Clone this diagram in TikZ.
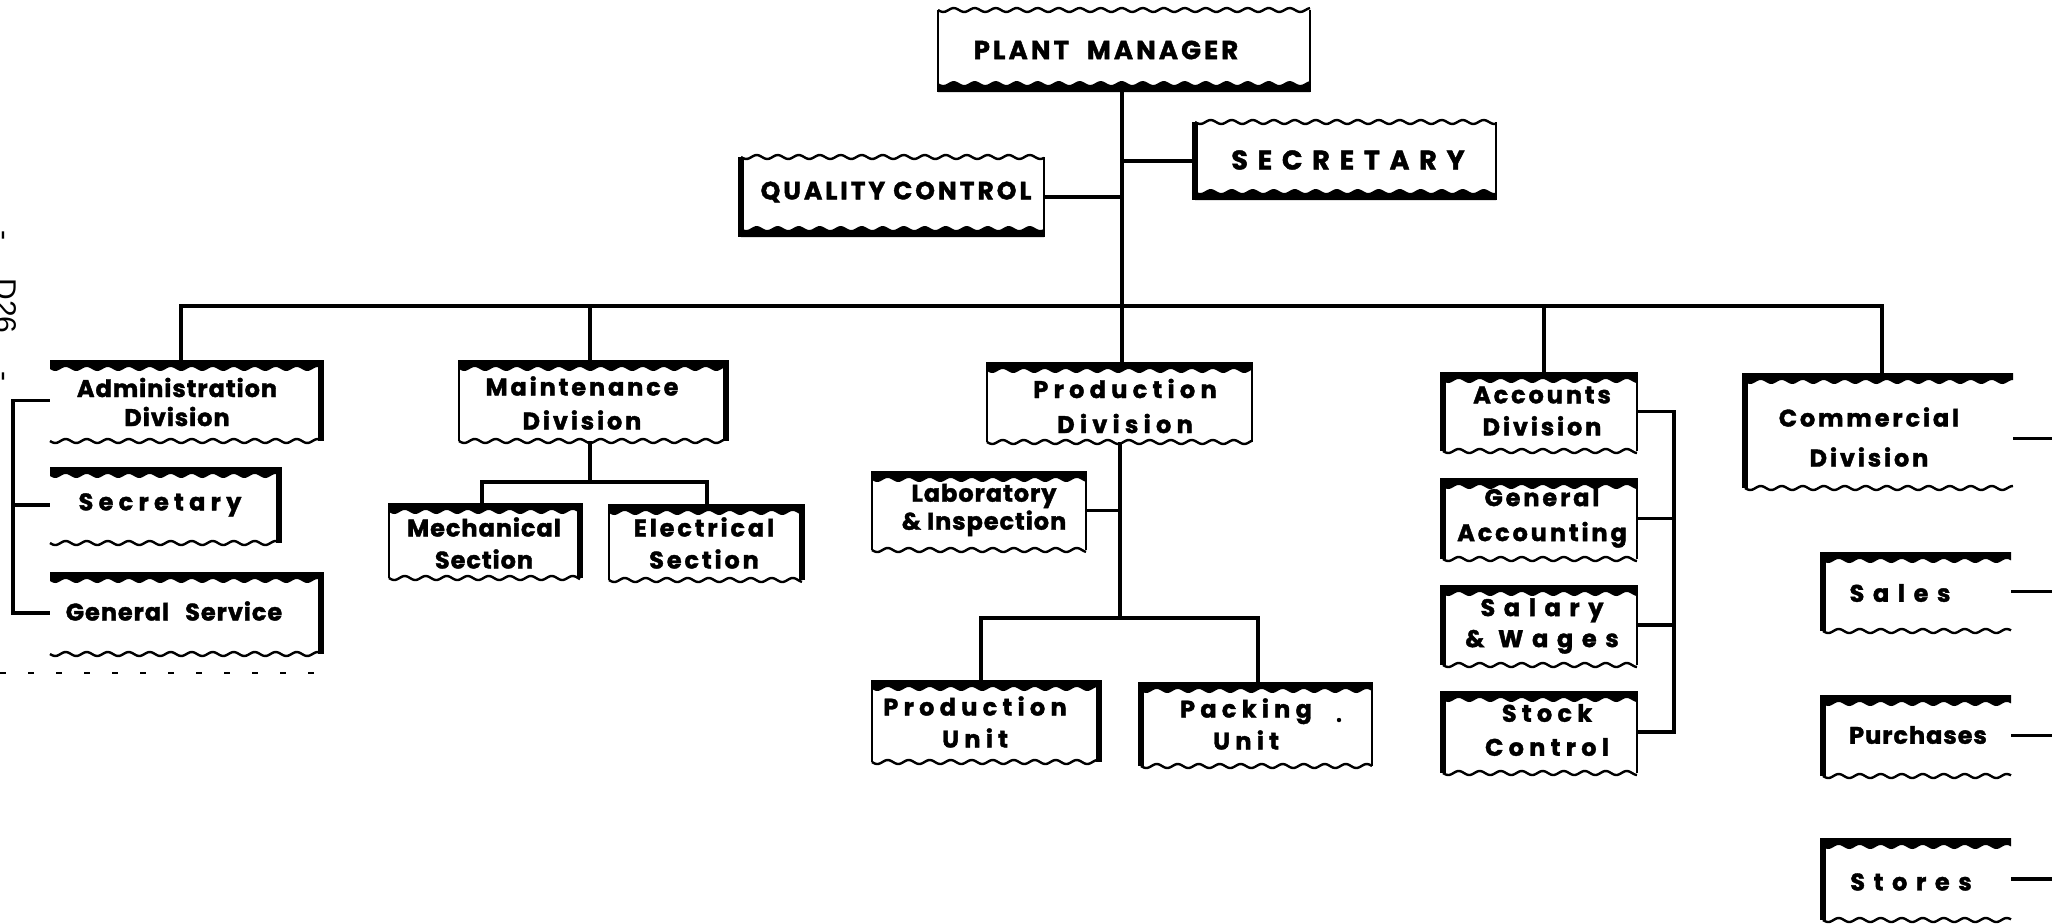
\documentclass[tikz,border=0pt]{standalone}
\usepackage{fontspec}
\usetikzlibrary{fit}

% lettering: rounded heavy sans, with several letter spacings
\newfontfamily\orgf{Poppins}[LetterSpace=4, BoldFeatures={FakeBold=1.6}]
\newfontfamily\orgm{Poppins}[LetterSpace=12, BoldFeatures={FakeBold=1.6}]
\newfontfamily\orgs{Poppins}[LetterSpace=22, BoldFeatures={FakeBold=1.6}]
\newfontfamily\orgss{Poppins}[LetterSpace=36, BoldFeatures={FakeBold=1.6}]
\newfontfamily\pgnum{Liberation Sans}

% flags of a box: T/B = black band on top/bottom, L/R = heavy left/right side,
% nL/nR = side left out
\newif\ifobT \newif\ifobB \newif\ifobL \newif\ifobR \newif\ifobnL \newif\ifobnR
\pgfkeys{/orgbox/.cd,
  T/.code=\obTtrue, B/.code=\obBtrue, L/.code=\obLtrue, R/.code=\obRtrue,
  nL/.code=\obnLtrue, nR/.code=\obnRtrue}

\tikzset{
  edge/.style={line width=1.2pt},
  thickside/.style={line width=3pt},
  conn/.style={line width=1.6pt},
  bus/.style={line width=2.4pt},
  t0/.style={inner sep=0pt, align=center, font=\orgf\bfseries\fontsize{12}{16}\selectfont},
  t1/.style={inner sep=0pt, align=center, font=\orgm\bfseries\fontsize{12}{16}\selectfont},
  t2/.style={inner sep=0pt, align=center, font=\orgs\bfseries\fontsize{12}{16}\selectfont},
  t3/.style={inner sep=0pt, align=center, font=\orgss\bfseries\fontsize{12}{16}\selectfont},
}

% box with wavy top and bottom: [flags]{name}{x1}{y1}{x2}{y2}
\newcommand\orgbox[6][]{%
  \obTfalse\obBfalse\obLfalse\obRfalse\obnLfalse\obnRfalse
  \pgfqkeys{/orgbox}{#1}%
  \coordinate (#2-nw) at (#3,#4);
  \coordinate (#2-se) at (#5,#6);
  \node[fit=(#2-nw)(#2-se), inner sep=0pt] (#2) {};
  \ifobT
    \fill (#3,#4) -- (#5,#4) -- plot[domain=#5:#3, samples=150, smooth, variable=\xx]
      (\xx,{#4+9+2*sin((\xx-#3)/21*360)}) -- cycle;
  \else
    \draw[edge] plot[domain=#3:#5, samples=150, smooth, variable=\xx]
      (\xx,{#4+2*sin((\xx-#3)/21*360)});
  \fi
  \ifobB
    \fill (#3,#6) -- (#5,#6) -- plot[domain=#5:#3, samples=150, smooth, variable=\xx]
      (\xx,{#6-9+2*sin((\xx-#3)/21*360)}) -- cycle;
  \else
    \draw[edge] plot[domain=#3:#5, samples=150, smooth, variable=\xx]
      (\xx,{#6+2*sin((\xx-#3)/21*360)});
  \fi
  \ifobnL\else
    \ifobL \draw[thickside] (#3,#4) -- (#3,#6); \else \draw[edge] (#3,#4) -- (#3,#6); \fi
  \fi
  \ifobnR\else
    \ifobR \draw[thickside] (#5,#4) -- (#5,#6); \else \draw[edge] (#5,#4) -- (#5,#6); \fi
  \fi
}

\begin{document}
\begin{tikzpicture}[x=0.5pt, y=-0.5pt]
\useasboundingbox (0,0) rectangle (2052,923);
\fill[white] (0,0) rectangle (2052,923);

% ---- boxes
\orgbox[B]{pm}{938}{10}{1310}{92}
\orgbox[B,L]{sec}{1195}{122}{1496}{200}
\orgbox[B,L]{qc}{741}{157}{1044}{237}

\orgbox[T,R,nL]{adm}{50}{360}{321}{441}
\orgbox[T,R,nL]{sa}{50}{467}{279}{543}
\orgbox[T,R,nL]{gs}{50}{572}{321}{654}

\orgbox[T,R]{mnt}{459}{360}{726}{441}
\orgbox[T,R]{mech}{389}{503}{580}{578}
\orgbox[T,R]{elec}{609}{504}{802}{580}

\orgbox[T]{prod}{987}{362}{1252}{442}
\orgbox[T]{lab}{872}{471}{1086}{550}
\orgbox[T,R]{pu}{872}{680}{1099}{762}
\orgbox[T,L]{pk}{1141}{682}{1372}{766}

\orgbox[T,L]{acc}{1443}{372}{1637}{451}
\orgbox[T,L]{gen}{1443}{478}{1637}{559}
\orgbox[T,L]{sal}{1443}{585}{1637}{665}
\orgbox[T,L]{stk}{1443}{691}{1637}{773}

\orgbox[T,L,nR]{comm}{1745}{373}{2013}{488}
\orgbox[T,L,nR]{sales}{1823}{552}{2011}{631}
\orgbox[T,L,nR]{pur}{1823}{695}{2011}{776}
\orgbox[T,L,nR]{sto}{1823}{838}{2011}{920}

% ---- lettering
\node[t1, font=\orgm\bfseries\fontsize{13}{16}\selectfont] (pm-t) at (1106,50) {PLANT\hspace{9pt}MANAGER};
\node[t3, font=\orgss\bfseries\fontsize{13.5}{16}\selectfont] (sec-t) at (1348,160) {SECRETARY};
\node[t1, font=\orgm\bfseries\fontsize{12.5}{16}\selectfont] (qc-t) at (896,192) {QUALITY\hspace{4pt}CONTROL};

\node[t0, font=\orgf\bfseries\fontsize{12}{14.5}\selectfont] (adm-t) at (177,402) {Administration\\Division};
\node[t2] (sa-t) at (160,505) {Secretary};
\node[t0] (gs-t) at (174,611) {General\hspace{8pt}Service};

\node[t1, font=\orgm\bfseries\fontsize{12}{17}\selectfont] (mnt-t) at (582,403) {Maintenance\\Division};
\node[t0] (mech-t) at (484,543) {Mechanical\\Section};
\node[t1] (elec-t) at (704,543) {Electrical\\Section};

\node[t2, font=\orgs\bfseries\fontsize{12}{17.5}\selectfont] (prod-t) at (1125,406) {Production\\Division};
\node[t0, font=\orgf\bfseries\fontsize{12}{14}\selectfont] (lab-t) at (984,510) {Laboratory\\\& Inspection};
\node[t2] (pu-t) at (975,722) {Production\\Unit};
\node[t2] (pk-t) at (1246,724) {Packing\\Unit};
\fill (1339,720) circle (1.1pt);

\node[t1] (acc-t) at (1542,411) {Accounts\\Division};
\node[t1, font=\orgm\bfseries\fontsize{12}{17.5}\selectfont] (gen-t) at (1542,518) {General\\Accounting};
\node[t3, font=\orgss\bfseries\fontsize{12}{15.5}\selectfont] (sal-t) at (1542,626) {Salary\\\& Wages};
\node[t2, font=\orgs\bfseries\fontsize{12}{17}\selectfont] (stk-t) at (1547,730) {Stock\\Control};

\node[t1, font=\orgm\bfseries\fontsize{12}{20}\selectfont] (comm-t) at (1869,437) {Commercial\\Division};
\node[t3] (sales-t) at (1900,593) {Sales};
\node[t0] (pur-t) at (1918,735) {Purchases};
\node[t3] (sto-t) at (1911,882) {Stores};

% page number, set sideways at the left margin
\node[font=\pgnum\fontsize{15}{18}\selectfont, rotate=-90, anchor=base] (pgno) at (-4,306) {-\hspace{19pt}D26\hspace{19pt}-};

% ---- connectors
\coordinate (jt) at (1122,306);
\coordinate (b1) at (181,306);
\coordinate (b2) at (590,306);
\coordinate (b4) at (1544,306);
\coordinate (b5) at (1882,306);
\draw[conn] (pm.south -| jt) -- (prod.north -| jt);
\draw[conn] (sec.west) -- (sec.west -| jt);
\draw[conn] (qc.east) -- (qc.east -| jt);
\draw[bus] (b1) -- (b5);
\draw[conn] ([yshift=1pt]b1) -- (adm.north -| b1);
\draw[conn] (b2) -- (mnt.north -| b2);
\draw[conn] (b4) -- (acc.north -| b4);
\draw[conn] ([yshift=1pt]b5) -- (comm.north -| b5);

% administration bracket
\coordinate (lbr) at (13,0);
\draw[conn] (adm.west) -- (adm.west -| lbr) -- (gs.west -| lbr) -- (gs.west);
\draw[conn] (sa.west) -- (sa.west -| lbr);

% maintenance
\coordinate (mj) at (590,482);
\coordinate (ml) at (482,482);
\coordinate (mr) at (707,482);
\draw[conn] (mnt.south -| mj) -- (mj);
\draw[conn] (mech.north -| ml) -- (ml) -- (mr) -- (elec.north -| mr);

% production
\coordinate (pj) at (1120,618);
\coordinate (pl) at (981,618);
\coordinate (pr) at (1258,618);
\draw[conn] (prod.south -| pj) -- (pj);
\draw[conn] (lab.east) -- (lab.east -| pj);
\draw[conn] (pu.north -| pl) -- (pl) -- (pr) -- (pk.north -| pr);

% accounts bracket
\coordinate (abr) at (1674,0);
\draw[conn] (acc.east) -- (acc.east -| abr) -- (stk.east -| abr) -- (stk.east);
\draw[conn] (gen.east) -- (gen.east -| abr);
\draw[conn] (sal.east) -- (sal.east -| abr);

% commercial lines running off the right margin
\coordinate (redge) at (2052,0);
\draw[conn] ([yshift=-4pt]comm.east) -- ([yshift=-4pt]comm.east -| redge);
\draw[conn] (sales.east) -- (sales.east -| redge);
\draw[conn] (pur.east) -- (pur.east -| redge);
\draw[conn] (sto.east) -- (sto.east -| redge);

% cut line
\coordinate (d0) at (0,673);
\coordinate (d1) at (314,673);
\draw[line width=0.6pt, dash pattern=on 3pt off 11pt] (d0) -- (d1);
\end{tikzpicture}
\end{document}
